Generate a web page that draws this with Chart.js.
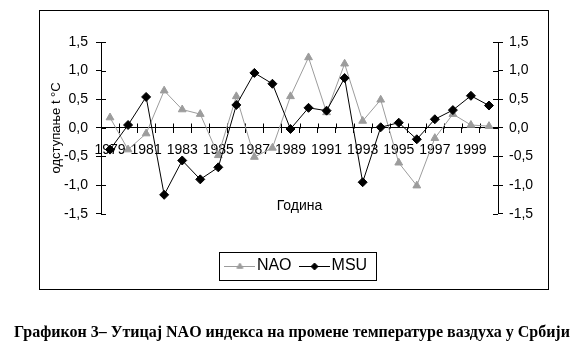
<!DOCTYPE html>
<html>
<head>
<meta charset="utf-8">
<script src="https://cdn.jsdelivr.net/npm/chart.js@4.4.0/dist/chart.umd.min.js"></script>
<style>
html,body{margin:0;padding:0;background:#fff;}
#wrap{position:relative;width:584px;height:350px;}
#frame{position:absolute;left:39px;top:10px;width:508px;height:278px;border:1px solid #000;}
#chart{position:absolute;left:0;top:0;}
#caption{position:absolute;left:0;top:323px;width:584px;text-align:center;font:bold 16px 'Liberation Serif','Times New Roman',serif;color:#000;}
</style>
</head>
<body>
<div id="wrap">
  <div id="frame"></div>
  <canvas id="chart" width="584" height="350"></canvas>
  <div id="caption">Графикон 3– Утицај NAO индекса на промене температуре ваздуха у Србији</div>
</div>
<script>
// data
const years = ['1979','1980','1981','1982','1983','1984','1985','1986','1987','1988','1989',
               '1990','1991','1992','1993','1994','1995','1996','1997','1998','1999','2000'];
const naoValues = [0.18,-0.38,-0.10,0.65,0.32,0.24,-0.48,0.55,-0.51,-0.35,0.55,
                   1.23,0.27,1.12,0.12,0.49,-0.61,-1.01,-0.18,0.24,0.05,0.03];
const msuValues = [-0.38,0.05,0.54,-1.17,-0.57,-0.90,-0.69,0.40,0.96,0.77,-0.02,
                   0.35,0.30,0.87,-0.95,0.01,0.09,-0.20,0.15,0.31,0.56,0.39];
const yTickValues = [-1.5,-1.0,-0.5,0.0,0.5,1.0,1.5];

const NAO_COLOR = '#9c9c9c';
const MSU_COLOR = '#000000';

Chart.defaults.font.family = "'Liberation Sans', Arial, sans-serif";
Chart.defaults.font.size = 14;
Chart.defaults.color = '#000';

const fmt = v => Number(v).toFixed(1).replace('.', ',');
const useTicks = s => { s.ticks = yTickValues.map(v => ({value: v})); };

// small line+marker picture for each legend entry
function legendIcon(color, style, r){
  const c = document.createElement('canvas');
  c.width = 31; c.height = 12;
  const ctx = c.getContext('2d');
  ctx.strokeStyle = color; ctx.fillStyle = color; ctx.lineWidth = 1;
  ctx.beginPath(); ctx.moveTo(0, 6.5); ctx.lineTo(31, 6.5); ctx.stroke();
  Chart.helpers.drawPoint(ctx, {pointStyle: style, radius: r, borderWidth: 1}, 15.5, 6.5);
  return c;
}
const icons = [legendIcon(NAO_COLOR, 'triangle', 3.5), legendIcon(MSU_COLOR, 'rectRot', 3.5)];

// ticks that cross the axis lines (Chart.js only draws the outer half)
const crossTicks = {
  id: 'crossTicks',
  beforeDatasetsDraw(chart){
    const {ctx, scales: {x, y, y2}} = chart;
    const y0 = Math.round(y.getPixelForValue(0)) + 0.5;
    ctx.save();
    ctx.strokeStyle = '#000'; ctx.lineWidth = 1;
    ctx.beginPath();
    for (let i = 0; i <= years.length; i++){
      const px = Math.round(x.getPixelForValue(i - 0.5)) + 0.5;
      ctx.moveTo(px, y0); ctx.lineTo(px, y0 - 5);
    }
    y.ticks.forEach(t => {
      const py = Math.round(y.getPixelForValue(t.value)) + 0.5;
      ctx.moveTo(y.right, py); ctx.lineTo(y.right + 5, py);
      ctx.moveTo(y2.left, py); ctx.lineTo(y2.left - 5, py);
    });
    ctx.stroke();
    ctx.restore();
  }
};

// frame round the legend
const legendFrame = {
  id: 'legendFrame',
  afterDraw(chart){
    const hb = chart.legend.legendHitBoxes;
    if (!hb || !hb.length) return;
    const first = hb[0], last = hb[hb.length - 1];
    const cy = first.top + first.height / 2;
    const l = Math.round(first.left - 12) + 0.5;
    const r = Math.round(last.left + last.width + 9) + 0.5;
    const t = Math.round(cy - 14.5) + 0.5;
    const ctx = chart.ctx;
    ctx.save();
    ctx.strokeStyle = '#000'; ctx.lineWidth = 1;
    ctx.strokeRect(l, t, r - l, 28);
    ctx.restore();
  }
};

new Chart(document.getElementById('chart').getContext('2d'), {
  type: 'line',
  data: {
    labels: years,
    datasets: [
      {label: 'NAO', data: naoValues, order: 1, borderColor: NAO_COLOR, borderWidth: 1,
       pointStyle: 'triangle', pointRadius: 4.5, pointBackgroundColor: NAO_COLOR,
       pointBorderColor: NAO_COLOR, pointBorderWidth: 1, tension: 0, yAxisID: 'y'},
      {label: 'MSU', data: msuValues, order: 0, borderColor: MSU_COLOR, borderWidth: 1,
       pointStyle: 'rectRot', pointRadius: 4.5, pointBackgroundColor: MSU_COLOR,
       pointBorderColor: MSU_COLOR, pointBorderWidth: 1, tension: 0, yAxisID: 'y'}
    ]
  },
  options: {
    responsive: false,
    animation: false,
    devicePixelRatio: 1,
    layout: {padding: {left: 50, right: 36, top: 42, bottom: 66}},
    plugins: {
      tooltip: {enabled: false},
      legend: {
        position: 'bottom',
        title: {display: true, text: '', padding: {top: 13.5, bottom: 0}, font: {size: 14}},
        labels: {
          usePointStyle: true,
          pointStyleWidth: 18,
          padding: 14,
          font: {size: 16},
          sort: (a, b) => a.datasetIndex - b.datasetIndex,
          generateLabels(chart){
            const items = Chart.defaults.plugins.legend.labels.generateLabels(chart);
            items.forEach(it => { it.pointStyle = icons[it.datasetIndex]; });
            return items;
          }
        }
      }
    },
    scales: {
      x: {
        type: 'category',
        position: {y: 0},
        offset: true,
        grid: {display: true, drawOnChartArea: false, offset: true, tickLength: 5, color: '#000'},
        border: {display: true, color: '#000'},
        ticks: {autoSkip: false, maxRotation: 0, padding: 9,
                callback: (v, i) => i % 2 === 0 ? years[i] : ''},
        title: {display: true, text: 'Година', font: {size: 14}, padding: {top: 30, bottom: 0}}
      },
      y: {
        position: 'left',
        min: -1.5, max: 1.5,
        afterBuildTicks: useTicks,
        afterFit: s => { s.width = 51; },
        grid: {display: true, drawOnChartArea: false, tickLength: 5, color: '#000'},
        border: {display: true, color: '#000'},
        ticks: {padding: 8, callback: v => fmt(v)},
        title: {display: true, text: 'одступање t °C', font: {size: 13}, padding: {top: -1, bottom: 0}}
      },
      y2: {
        position: 'right',
        min: -1.5, max: 1.5,
        afterBuildTicks: useTicks,
        afterFit: s => { s.width = 50; },
        grid: {display: true, drawOnChartArea: false, tickLength: 5, color: '#000'},
        border: {display: true, color: '#000'},
        ticks: {padding: 6, callback: v => fmt(v)}
      }
    }
  },
  plugins: [crossTicks, legendFrame]
});
</script>
</body>
</html>
